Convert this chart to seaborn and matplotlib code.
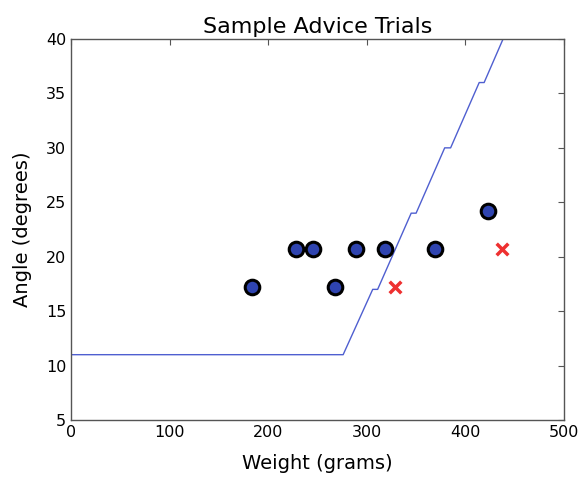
import numpy as np
import pandas as pd
import matplotlib
matplotlib.use("Agg")
import matplotlib.pyplot as plt
import seaborn as sns

# --- data ---
good_weight = [184, 228, 245, 268, 289, 318, 369, 423]
good_angle = [17.2, 20.7, 20.7, 17.2, 20.7, 20.7, 20.7, 24.2]

bad_weight = [329, 437]
bad_angle = [17.2, 20.7]

boundary_weight = [0, 276, 306, 311, 345, 350, 379, 385, 414, 419, 443]
boundary_angle = [11, 11, 17, 17, 24, 24, 30, 30, 36, 36, 41]

sns.set_style("white", {
    "xtick.direction": "in", "ytick.direction": "in",
    "xtick.top": True, "ytick.right": True,
    "axes.edgecolor": "black",
    "text.color": "black", "axes.labelcolor": "black",
})
plt.rcParams["font.family"] = ["DejaVu Sans"]

fig, ax = plt.subplots(figsize=(5.79, 4.78), dpi=100)
fig.subplots_adjust(left=71 / 579, right=564 / 579, top=1 - 39 / 478, bottom=1 - 420 / 478)

line_df = pd.DataFrame({"w": boundary_weight, "a": boundary_angle})
sns.lineplot(data=line_df, x="w", y="a", ax=ax, color="#4f5fd0", linewidth=1.0,
             sort=False, estimator=None)

sns.scatterplot(x=good_weight, y=good_angle, ax=ax, marker="o", s=110,
                color="#2f44b0", edgecolor="black", linewidth=2.2, zorder=3)
sns.scatterplot(x=bad_weight, y=bad_angle, ax=ax, marker="x", s=70,
                color="#ee3030", linewidth=2.5, zorder=3)

ax.set_xlim(0, 500)
ax.set_ylim(5, 40)
ax.set_xticks(np.arange(0, 501, 100))
ax.set_yticks(np.arange(5, 41, 5))
ax.tick_params(axis="both", labelsize=11.5, length=4, width=0.8, colors="#555555",
               labelcolor="black")
for s in ax.spines.values():
    s.set_color("#555555")
    s.set_linewidth(1.0)

ax.set_title("Sample Advice Trials", fontsize=16, pad=4)
ax.set_xlabel("Weight (grams)", fontsize=14, labelpad=10)
ax.set_ylabel("Angle (degrees)", fontsize=14, labelpad=10)

fig.savefig("out.png", dpi=100)
